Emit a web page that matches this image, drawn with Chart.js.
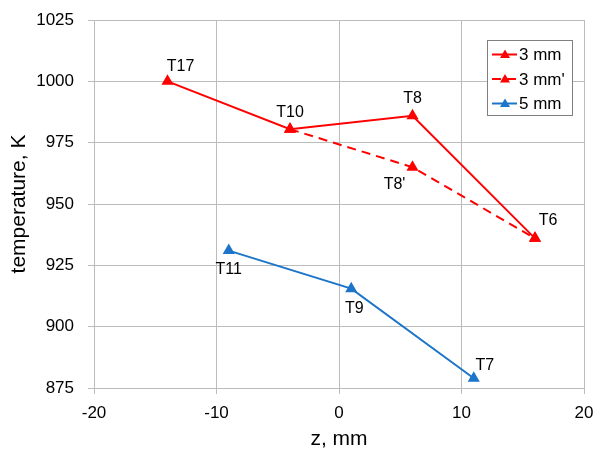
<!DOCTYPE html>
<html><head><meta charset="utf-8">
<script src="https://cdn.jsdelivr.net/npm/chart.js@4/dist/chart.umd.min.js"></script>
<style>html,body{margin:0;padding:0;background:#fff}#wrap{width:596px;height:450px}</style>
</head><body><div id="wrap"><canvas id="c" width="596" height="450"></canvas></div>
<script>
const seriesNames = ["3 mm", "3 mm'", "5 mm"];
const zA = [-14, -4, 6, 16];
const tA = [1000, 980.5, 986, 936];
const labelsA = ["T17", "T10", "T8", "T6"];
const zB = [-4, 6, 16];
const tB = [980.5, 965, 936];
const labelsB = ["", "T8'", ""];
const zC = [-9, 1, 11];
const tC = [931, 915.5, 879];
const labelsC = ["T11", "T9", "T7"];
const xTicks = [-20, -10, 0, 10, 20];
const yTicks = [875, 900, 925, 950, 975, 1000, 1025];

const RED = '#ff0000', BLUE = '#1c75c8';
const FONT = '"Liberation Sans", Arial, sans-serif';
function pts(xs, ys){ return xs.map((x,i)=>({x:x,y:ys[i]})); }

// label offsets relative to the point (positioning only)
const labelPos = {
  "T17":[13,-15], "T10":[0,-17], "T8":[0,-17], "T6":[13,-18],
  "T8'":[-18,17], "T11":[0,19], "T9":[3,20], "T7":[11,-13]
};

const pointLabels = {
  id:'pointLabels',
  afterDatasetsDraw(chart){
    const ctx = chart.ctx;
    ctx.save();
    ctx.font = '16px ' + FONT;
    ctx.fillStyle = '#000';
    ctx.textBaseline = 'middle';
    ctx.textAlign = 'center';
    [labelsA, labelsB, labelsC].forEach((labs, di)=>{
      const meta = chart.getDatasetMeta(di);
      meta.data.forEach((el, i)=>{
        const t = labs[i]; if(!t) return;
        const p = labelPos[t];
        ctx.fillText(t, el.x + p[0], el.y + p[1]);
      });
    });
    ctx.restore();
  }
};

const customLegend = {
  id:'customLegend',
  afterDraw(chart){
    const ctx = chart.ctx;
    const x0 = 487, y0 = 40, w = 85, h = 75;
    ctx.save();
    ctx.fillStyle = '#fff';
    ctx.fillRect(x0, y0, w, h);
    ctx.strokeStyle = '#808080'; ctx.lineWidth = 1;
    ctx.strokeRect(x0+0.5, y0+0.5, w, h);
    ctx.font = '17px ' + FONT;
    ctx.textBaseline = 'middle'; ctx.textAlign = 'left';
    chart.data.datasets.forEach((ds, i)=>{
      const y = y0 + 14.5 + i*24.5;
      ctx.strokeStyle = ds.borderColor; ctx.lineWidth = 2;
      ctx.setLineDash(ds.borderDash || []);
      ctx.beginPath(); ctx.moveTo(x0+5, y); ctx.lineTo(x0+30, y); ctx.stroke();
      ctx.setLineDash([]);
      ctx.fillStyle = ds.borderColor;
      ctx.beginPath(); ctx.moveTo(x0+18, y-5); ctx.lineTo(x0+23, y+3.5); ctx.lineTo(x0+13, y+3.5); ctx.closePath(); ctx.fill();
      ctx.fillStyle = '#000';
      ctx.fillText(ds.label, x0+32, y+1);
    });
    ctx.restore();
  }
};

new Chart(document.getElementById('c'), {
  type:'line',
  data:{ datasets:[
    {label:seriesNames[0], data:pts(zA,tA), borderColor:RED, backgroundColor:RED, borderWidth:2, pointStyle:'triangle', pointRadius:5, pointHoverRadius:5},
    {label:seriesNames[1], data:pts(zB,tB), borderColor:RED, backgroundColor:RED, borderWidth:2, borderDash:[9,6], pointStyle:'triangle', pointRadius:5, pointHoverRadius:5},
    {label:seriesNames[2], data:pts(zC,tC), borderColor:BLUE, backgroundColor:BLUE, borderWidth:2, pointStyle:'triangle', pointRadius:5, pointHoverRadius:5}
  ]},
  options:{
    responsive:false, animation:false, devicePixelRatio:1,
    layout:{padding:{top:20, right:12, left:0, bottom:0}},
    plugins:{legend:{display:false}, tooltip:{enabled:false}},
    scales:{
      x:{type:'linear', min:-20, max:20,
        afterBuildTicks(s){ s.ticks = xTicks.map(v=>({value:v})); },
        afterFit(s){ s.height = 62; s.paddingLeft = 0; s.paddingRight = 0; },
        grid:{color:'#bcbcbc', lineWidth:1, tickLength:6, tickColor:'#bcbcbc'},
        border:{color:'#bcbcbc'},
        ticks:{color:'#000', font:{family:FONT, size:17}, padding:9, maxRotation:0, callback:v=>String(v)},
        title:{display:true, text:'z, mm', color:'#000', font:{family:FONT, size:21, lineHeight:1}, padding:{top:0, bottom:0}}
      },
      y:{type:'linear', min:875, max:1025,
        afterBuildTicks(s){ s.ticks = yTicks.map(v=>({value:v})); },
        afterFit(s){ s.width = 94; s.paddingTop = 0; s.paddingBottom = 0; },
        grid:{color:'#bcbcbc', lineWidth:1, tickLength:6, tickColor:'#bcbcbc'},
        border:{color:'#bcbcbc'},
        ticks:{color:'#000', font:{family:FONT, size:17}, padding:14, callback:v=>String(v)},
        title:{display:true, text:'temperature, K', color:'#000', font:{family:FONT, size:21, lineHeight:1}, padding:{top:9, bottom:0}}
      }
    }
  },
  plugins:[pointLabels, customLegend]
});
</script></body></html>
